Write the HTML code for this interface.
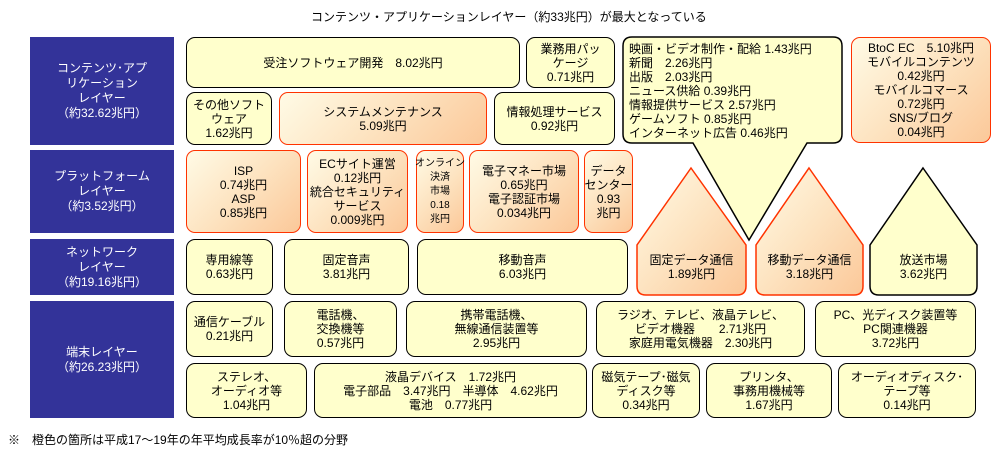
<!DOCTYPE html>
<html><head><meta charset="utf-8"><style>
body{margin:0;width:1002px;height:452px;background:#fff;position:relative;overflow:hidden;font-family:"Liberation Sans","Noto Sans CJK JP",sans-serif;font-size:12px;color:#000}
.b{position:absolute;box-sizing:border-box;border:1.5px solid #000;border-radius:9px;background:#ffffcc;display:flex;flex-direction:column;justify-content:center;align-items:center;text-align:center;line-height:14px;white-space:nowrap}
.o{border-color:#ff3300;background:linear-gradient(135deg,#fffbe6 0%,#fde3c0 50%,#fbc899 100%)}
.L{position:absolute;background:#333399;color:#fff;display:flex;flex-direction:column;justify-content:center;align-items:center;text-align:center;line-height:15px;font-size:12px}
.t{position:absolute;white-space:nowrap}
</style></head><body>
<div class="t" style="left:311px;top:8px">コンテンツ・アプリケーションレイヤー（約33兆円）が最大となっている</div>
<div class="L" style="left:30px;top:37px;width:144px;height:108px">コンテンツ･アプ<br>リケーション<br>レイヤー<br>（約32.62兆円）</div>
<div class="L" style="left:30px;top:150px;width:144px;height:83px">プラットフォーム<br>レイヤー<br>（約3.52兆円）</div>
<div class="L" style="left:30px;top:239px;width:144px;height:56px">ネットワーク<br>レイヤー<br>（約19.16兆円）</div>
<div class="L" style="left:30px;top:301px;width:144px;height:117px">端末レイヤー<br>（約26.23兆円）</div>

<div class="b" style="left:186px;top:37px;width:334px;height:51px">受注ソフトウェア開発　8.02兆円</div>
<div class="b" style="left:526px;top:37px;width:89px;height:51px">業務用パッ<br>ケージ<br>0.71兆円</div>
<div class="b" style="left:186px;top:92px;width:86px;height:53px">その他ソフト<br>ウェア<br>1.62兆円</div>
<div class="b o" style="left:279px;top:92px;width:208px;height:53px">システムメンテナンス<br>5.09兆円</div>
<div class="b" style="left:494px;top:92px;width:121px;height:53px">情報処理サービス<br>0.92兆円</div>

<svg style="position:absolute;left:0;top:0" width="1002" height="452">
<defs><linearGradient id="g" x1="0" y1="0" x2="1" y2="1"><stop offset="0" stop-color="#fffbe6"/><stop offset="0.5" stop-color="#fde3c0"/><stop offset="1" stop-color="#fbc899"/></linearGradient></defs>
<path d="M632,37 H833 Q842,37 842,46 V134 Q842,143 833,143 H807 L749,240 L693,143 H632 Q623,143 623,134 V46 Q623,37 632,37 Z" fill="#ffffcc" stroke="#000" stroke-width="1.5"/>
<path d="M691,168 L746,245 V286 Q746,295 737,295 H646 Q637,295 637,286 V245 Z" fill="url(#g)" stroke="#ff3300" stroke-width="1.5"/>
<path d="M809,168 L863,245 V286 Q863,295 854,295 H765 Q756,295 756,286 V245 Z" fill="url(#g)" stroke="#ff3300" stroke-width="1.5"/>
<path d="M923,168 L977,245 V286 Q977,295 968,295 H879 Q870,295 870,286 V245 Z" fill="#ffffcc" stroke="#000" stroke-width="1.5"/>
</svg>
<div class="t" style="left:629px;top:42px;line-height:14px">映画・ビデオ制作・配給 1.43兆円<br>新聞　2.26兆円<br>出版　2.03兆円<br>ニュース供給 0.39兆円<br>情報提供サービス 2.57兆円<br>ゲームソフト 0.85兆円<br>インターネット広告 0.46兆円</div>
<div class="t" style="left:637px;top:253px;width:109px;text-align:center;line-height:14px">固定データ通信<br>1.89兆円</div>
<div class="t" style="left:756px;top:253px;width:107px;text-align:center;line-height:14px">移動データ通信<br>3.18兆円</div>
<div class="t" style="left:870px;top:253px;width:107px;text-align:center;line-height:14px">放送市場<br>3.62兆円</div>
<div class="b o" style="left:851px;top:37px;width:140px;height:106px">BtoC EC　5.10兆円<br>モバイルコンテンツ<br>0.42兆円<br>モバイルコマース<br>0.72兆円<br>SNS/ブログ<br>0.04兆円</div>

<div class="b o" style="left:186px;top:150px;width:115px;height:83px">ISP<br>0.74兆円<br>ASP<br>0.85兆円</div>
<div class="b o" style="left:307px;top:150px;width:101px;height:83px">ECサイト運営<br>0.12兆円<br>統合セキュリティ<br>サービス<br>0.009兆円</div>
<div class="b o" style="left:416px;top:150px;width:48px;height:83px;font-size:10px;line-height:14px">オンライン<br>決済<br>市場<br>0.18<br>兆円</div>
<div class="b o" style="left:469px;top:150px;width:110px;height:83px">電子マネー市場<br>0.65兆円<br>電子認証市場<br>0.034兆円</div>
<div class="b o" style="left:584px;top:150px;width:49px;height:83px">データ<br>センター<br>0.93<br>兆円</div>

<div class="b" style="left:186px;top:239px;width:87px;height:56px">専用線等<br>0.63兆円</div>
<div class="b" style="left:284px;top:239px;width:125px;height:56px">固定音声<br>3.81兆円</div>
<div class="b" style="left:417px;top:239px;width:211px;height:56px">移動音声<br>6.03兆円</div>

<div class="b" style="left:186px;top:301px;width:87px;height:56px">通信ケーブル<br>0.21兆円</div>
<div class="b" style="left:284px;top:301px;width:113px;height:56px">電話機、<br>交換機等<br>0.57兆円</div>
<div class="b" style="left:406px;top:301px;width:181px;height:56px">携帯電話機、<br>無線通信装置等<br>2.95兆円</div>
<div class="b" style="left:596px;top:301px;width:209px;height:56px">ラジオ、テレビ、液晶テレビ、<br>ビデオ機器　　2.71兆円<br>家庭用電気機器　2.30兆円</div>
<div class="b" style="left:815px;top:301px;width:161px;height:56px">PC、光ディスク装置等<br>PC関連機器<br>3.72兆円</div>

<div class="b" style="left:186px;top:363px;width:121px;height:55px">ステレオ、<br>オーディオ等<br>1.04兆円</div>
<div class="b" style="left:314px;top:363px;width:273px;height:55px">液晶デバイス　1.72兆円<br>電子部品　3.47兆円　半導体　4.62兆円<br>電池　0.77兆円</div>
<div class="b" style="left:592px;top:363px;width:108px;height:55px">磁気テープ･磁気<br>ディスク等<br>0.34兆円</div>
<div class="b" style="left:706px;top:363px;width:126px;height:55px">プリンタ、<br>事務用機械等<br>1.67兆円</div>
<div class="b" style="left:838px;top:363px;width:138px;height:55px">オーディオディスク･<br>テープ等<br>0.14兆円</div>

<div class="t" style="left:8px;top:431px">※　橙色の箇所は平成17～19年の年平均成長率が10％超の分野</div>
</body></html>
